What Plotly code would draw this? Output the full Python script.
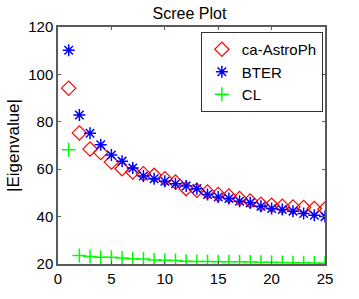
import plotly.graph_objects as go

x_vals = list(range(1, 26))
astro = [94.2, 75.3, 68.5, 67.0, 63.0, 60.2, 58.8, 58.1, 57.4, 56.0, 54.6, 51.8, 51.1,
         50.4, 49.3, 48.7, 47.6, 46.6, 45.2, 44.8, 44.4, 44.1, 43.8, 43.4, 43.2]
bter = [110.2, 82.9, 75.2, 70.3, 66.0, 63.4, 60.5, 57.1, 56.0, 54.9, 53.9, 52.9, 51.8,
        49.3, 48.3, 47.6, 46.5, 45.8, 44.4, 43.4, 43.0, 42.3, 41.3, 40.6, 40.0]
cl = [68.2, 23.6, 23.2, 22.8, 22.8, 22.5, 22.2, 22.1, 21.7, 21.6, 21.5, 21.2, 21.1,
      21.1, 21.0, 20.9, 20.9, 20.8, 20.7, 20.7, 20.6, 20.5, 20.5, 20.4, 20.3]
series_names = ["ca-AstroPh", "BTER", "CL"]
x_ticks = [0, 5, 10, 15, 20, 25]
y_ticks = [20, 40, 60, 80, 100, 120]

fig = go.Figure()
fig.add_trace(go.Scatter(x=x_vals, y=astro, mode="markers", name=series_names[0],
                         marker=dict(symbol="diamond-open", size=11, color="#ff0000",
                                     line=dict(width=1.2, color="#ff0000"))))
fig.add_trace(go.Scatter(x=x_vals, y=bter, mode="markers", name=series_names[1],
                         marker=dict(symbol="asterisk-open", size=10, color="#0000ff",
                                     line=dict(width=1.5, color="#0000ff"))))
fig.add_trace(go.Scatter(x=x_vals, y=cl, mode="markers", name=series_names[2],
                         marker=dict(symbol="cross-thin-open", size=10, color="#00ff00",
                                     line=dict(width=1.5, color="#00ff00"))))

axis_common = dict(showgrid=False, zeroline=False, showline=True, mirror="ticks",
                   linecolor="#5a5a5a", linewidth=1.5, ticks="inside", ticklen=3,
                   tickcolor="#5a5a5a", tickfont=dict(size=15, color="#000000"))
fig.update_xaxes(range=[0, 25], tickvals=x_ticks, **axis_common)
fig.update_yaxes(range=[20, 120], tickvals=y_ticks,
                 title=dict(text="|Eigenvalue|", font=dict(size=17, color="#000000"), standoff=4),
                 **axis_common)

fig.update_layout(
    width=359, height=299,
    margin=dict(l=54, r=34, t=27, b=33),
    paper_bgcolor="white", plot_bgcolor="white",
    font=dict(family="Liberation Sans, Arial, sans-serif", color="#000000"),
    title=dict(text="Scree Plot", x=(54 + 325) / 2 / 359, xanchor="center",
               y=1 - 13 / 299, yanchor="middle", font=dict(size=16, color="#000000")),
    showlegend=True,
    legend=dict(x=0.535, xanchor="left", y=0.979, yanchor="top",
                bordercolor="#333333", borderwidth=1, bgcolor="white",
                font=dict(size=15, color="#000000"), tracegroupgap=0,
                itemwidth=30),
)

fig.write_html("out.html", config={"displayModeBar": False},
               post_script="document.body.style.margin='0';")
